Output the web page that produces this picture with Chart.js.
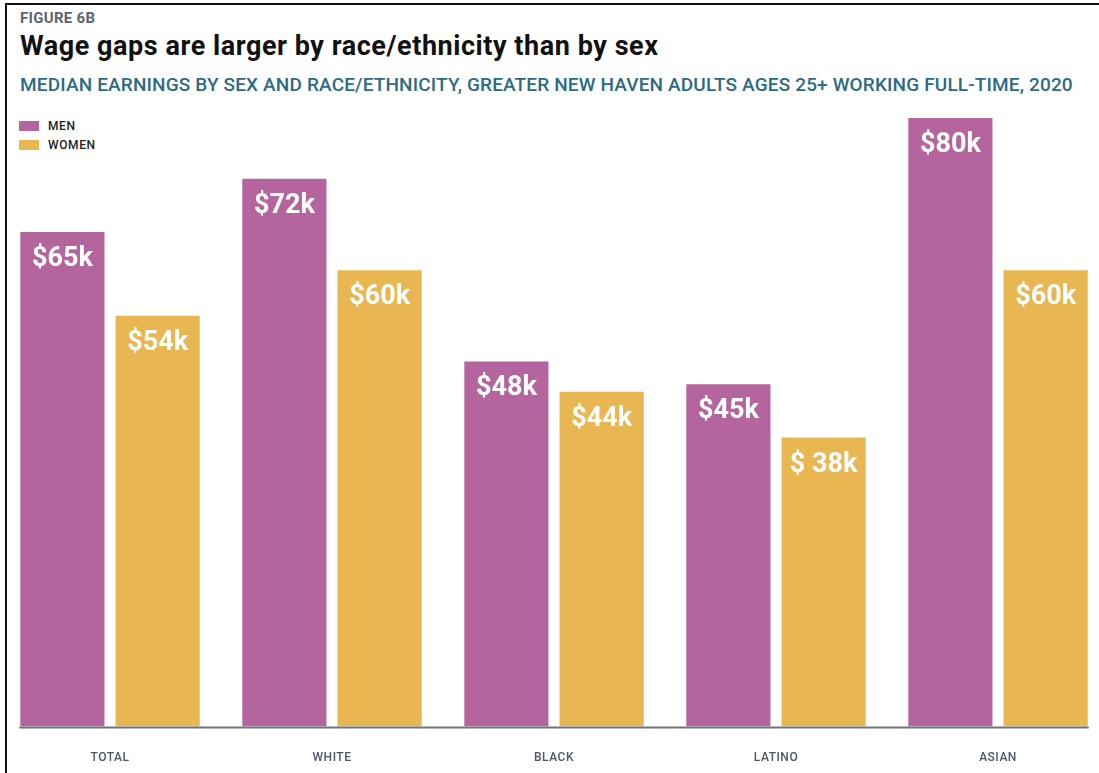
<!DOCTYPE html>
<html>
<head>
<meta charset="utf-8">
<script src="https://cdn.jsdelivr.net/npm/chart.js@4.4.1/dist/chart.umd.min.js"></script>
<style>
  html, body { margin: 0; padding: 0; background: #fff; }
  body { width: 1099px; height: 773px; position: relative; overflow: hidden; }
  .frame { position: absolute; left: 5px; top: 3px; right: 0; bottom: 0;
           border-top: 2px solid #111; border-left: 2px solid #111; pointer-events: none; }
  .fig { position: absolute; left: 20px; top: 11px; font: 700 15px/1 Roboto; color: #5b6570; letter-spacing: 0.3px; }
  .title { position: absolute; left: 20px; top: 33px; font: 700 27px/1 Roboto; color: #111; letter-spacing: 0.55px; white-space: nowrap; }
  .subtitle { position: absolute; left: 20px; top: 74.5px; font: 500 19px/1 Roboto; color: #2d6b85; letter-spacing: 0.15px; white-space: nowrap; }
  #legend { position: absolute; left: 19px; top: 120px; }
  .item { position: relative; height: 19px; }
  .swatch { position: absolute; left: 0; top: 1px; width: 20px; height: 10px; }
  .item span { position: absolute; left: 29px; top: 0; font: 500 12px/1 Roboto; color: #222; letter-spacing: 0.6px; }
  #chart { position: absolute; left: -1px; top: 100px; }
</style>
</head>
<body>
<div class="fig">FIGURE 6B</div>
<div class="title">Wage gaps are larger by race/ethnicity than by sex</div>
<div class="subtitle">MEDIAN EARNINGS BY SEX AND RACE/ETHNICITY, GREATER NEW HAVEN ADULTS AGES 25+ WORKING FULL-TIME, 2020</div>
<div id="legend"></div>
<canvas id="chart" width="1110" height="689"></canvas>
<div class="frame"></div>
<script>
const categories = ['TOTAL', 'WHITE', 'BLACK', 'LATINO', 'ASIAN'];
const seriesNames = ['MEN', 'WOMEN'];
const menValues = [65, 72, 48, 45, 80];
const womenValues = [54, 60, 44, 38, 60];
const menLabels = ['$65k', '$72k', '$48k', '$45k', '$80k'];
const womenLabels = ['$54k', '$60k', '$44k', '$ 38k', '$60k'];

// white value text near the top of each bar
const barLabels = {
  id: 'barLabels',
  afterDatasetsDraw(chart) {
    const ctx = chart.ctx;
    ctx.save();
    ctx.letterSpacing = '0px';
    ctx.font = '700 27px Roboto';
    ctx.fillStyle = '#fff';
    ctx.textAlign = 'center';
    ctx.textBaseline = 'alphabetic';
    chart.data.datasets.forEach((ds, i) => {
      chart.getDatasetMeta(i).data.forEach((bar, j) => {
        ctx.fillText(ds.valueLabels[j], bar.x, bar.y + 34);
      });
    });
    ctx.restore();
  }
};

// grey base line only under the bars
const baseLine = {
  id: 'baseLine',
  afterDatasetsDraw(chart) {
    const ctx = chart.ctx;
    const first = chart.getDatasetMeta(0).data[0];
    const lastBars = chart.getDatasetMeta(chart.data.datasets.length - 1).data;
    const last = lastBars[lastBars.length - 1];
    const y = chart.scales.y.getPixelForValue(0) + 1;
    ctx.save();
    ctx.strokeStyle = '#6f7580';
    ctx.lineWidth = 2;
    ctx.beginPath();
    ctx.moveTo(first.x - first.width / 2 - 1, y);
    ctx.lineTo(last.x + last.width / 2 + 1, y);
    ctx.stroke();
    ctx.restore();
  }
};

const spacing = {
  id: 'spacing',
  beforeDraw(chart) { chart.ctx.letterSpacing = '0.5px'; }
};

const chart = new Chart(document.getElementById('chart'), {
  type: 'bar',
  data: {
    labels: categories,
    datasets: [
      { label: seriesNames[0], data: menValues, valueLabels: menLabels,
        backgroundColor: '#b5659e', barPercentage: 0.884, categoryPercentage: 0.858 },
      { label: seriesNames[1], data: womenValues, valueLabels: womenLabels,
        backgroundColor: '#e9b752', barPercentage: 0.884, categoryPercentage: 0.858 }
    ]
  },
  options: {
    responsive: false,
    animation: false,
    layout: { padding: { top: 18, bottom: 8, left: 0, right: 0 } },
    plugins: { legend: { display: false }, tooltip: { enabled: false } },
    scales: {
      x: {
        grid: { display: false },
        border: { display: false },
        ticks: { color: '#4f5761', padding: 16, maxRotation: 0,
                 font: { family: 'Roboto', size: 12, weight: '500' } }
      },
      y: { display: false, min: 0, max: 80 }
    }
  },
  plugins: [spacing, baseLine, barLabels]
});

const legend = document.getElementById('legend');
chart.data.datasets.forEach(ds => {
  const item = document.createElement('div');
  item.className = 'item';
  item.innerHTML = '<div class="swatch" style="background:' + ds.backgroundColor + '"></div><span>' + ds.label + '</span>';
  legend.appendChild(item);
});
</script>
</body>
</html>
